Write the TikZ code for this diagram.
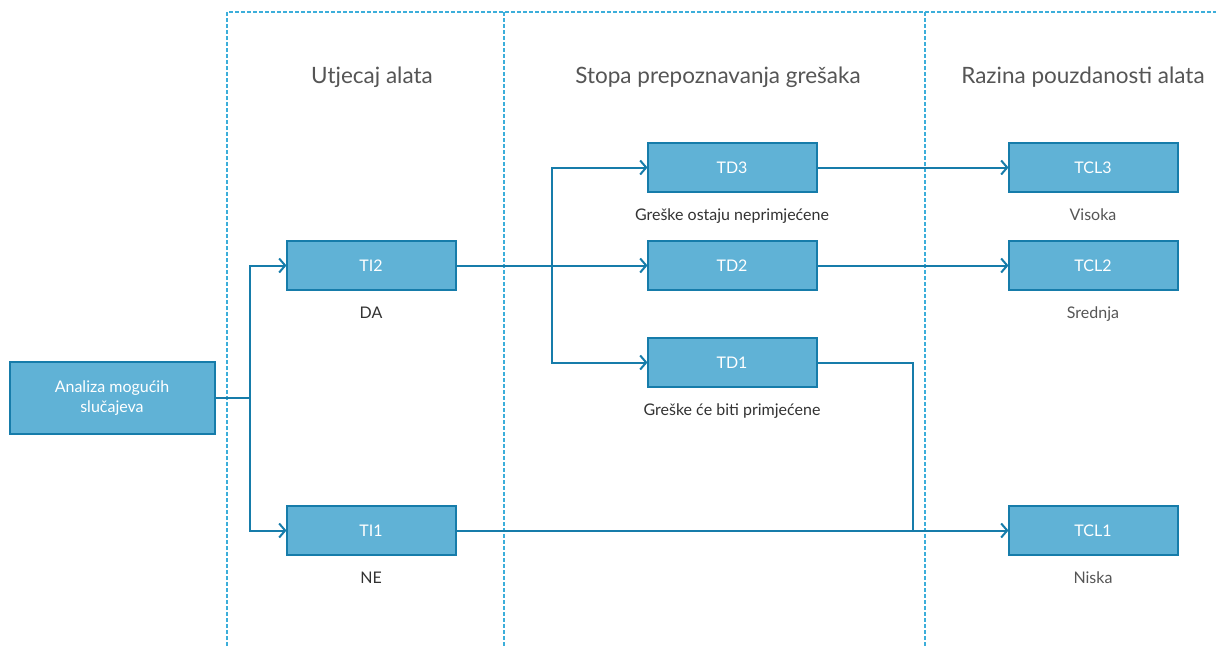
\documentclass[tikz,border=0pt]{standalone}
\usepackage{fontspec}
\setmainfont{Lato}
\usepackage{tikz}
\usetikzlibrary{arrows.meta, positioning, calc}

\definecolor{boxfill}{RGB}{96,178,214}
\definecolor{boxedge}{RGB}{22,124,170}
\definecolor{laneline}{RGB}{60,174,218}
\definecolor{headgray}{RGB}{85,85,85}
\definecolor{textgray}{RGB}{50,50,50}

\begin{document}
\begin{tikzpicture}[
    x=1pt, y=-1pt,
    block/.style={rectangle, draw=boxedge, fill=boxfill, line width=2pt, outer sep=0pt, minimum height=49pt, minimum width=169pt, align=center, text=white, font=\fontsize{16}{20}\selectfont},
    caption/.style={inner sep=0pt, text=textgray, font=\fontsize{16}{19}\selectfont},
    header/.style={text=headgray, font=\fontsize{22.5}{26}\selectfont},
    lane/.style={draw=laneline, line width=1.4pt, dash pattern=on 4pt off 2pt},
    conn/.style={draw=boxedge, line width=2pt, -{Straight Barb[length=6pt, width=14pt, line width=2pt]}},
    link/.style={draw=boxedge, line width=2pt}
]
\useasboundingbox (0,0) rectangle (1216,646);

% Lanes
\draw[lane] (227,646) -- (227,12) -- (1216,12);
\draw[lane] (504,12) -- (504,646);
\draw[lane] (925,12) -- (925,646);

% Nodes
\node [block, minimum width=205pt, minimum height=72pt] (analiza) at (112,398) {Analiza mogućih\\slučajeva};
\node [block, above right=72pt and 72pt of analiza] (ti2) {TI2};
\node [block, below right=72pt and 72pt of analiza] (ti1) {TI1};
\node [block, right=192pt of ti2] (td2) {TD2};
\node [block, above=49pt of td2] (td3) {TD3};
\node [block, below=48pt of td2] (td1) {TD1};
\node [block, right=192pt of td3] (tcl3) {TCL3};
\node [block, right=192pt of td2] (tcl2) {TCL2};
\node [block, right=553pt of ti1] (tcl1) {TCL1};

% Arrows
\draw[link] (analiza.east) -- ++(35,0) coordinate (fork-ti);
\draw[conn] (fork-ti) |- (ti2);
\draw[conn] (fork-ti) |- (ti1);
\draw[conn] (ti2) -- (td2);
\coordinate (fork-td) at ($(ti2.east)+(96,0)$);
\draw[conn] (fork-td) |- (td3);
\draw[conn] (fork-td) |- (td1);
\draw[conn] (td3) -- (tcl3);
\draw[conn] (td2) -- (tcl2);
\draw[conn] (ti1) -- (tcl1);
\draw[link] (td1.east) -- ++(96,0) coordinate (td1-drop) -- (td1-drop |- ti1.east);

% Labels
\node [header] at (372,77) (h-ti) {Utjecaj alata};
\node [header] at (718,77) (h-td) {Stopa prepoznavanja grešaka};
\node [header] at (1083,77) (h-tcl) {Razina pouzdanosti alata};
\node [caption, below=17pt of ti2] (l-ti2) {DA};
\node [caption, below=17pt of ti1] (l-ti1) {NE};
\node [caption, below=17pt of td3] (l-td3) {Greške ostaju neprimjećene};
\node [caption, below=17pt of td1] (l-td1) {Greške će biti primjećene};
\node [caption, text=headgray, below=17pt of tcl3] (l-tcl3) {Visoka};
\node [caption, text=headgray, below=17pt of tcl2] (l-tcl2) {Srednja};
\node [caption, text=headgray, below=17pt of tcl1] (l-tcl1) {Niska};
\end{tikzpicture}
\end{document}
